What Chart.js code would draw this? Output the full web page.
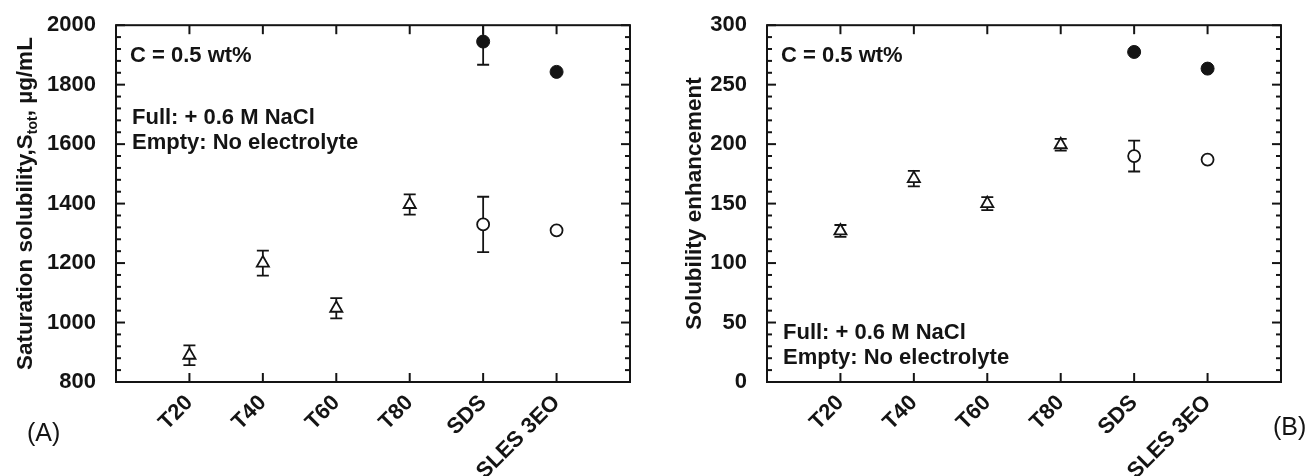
<!DOCTYPE html>
<html>
<head>
<meta charset="utf-8" />
<title>Saturation solubility and solubility enhancement</title>
<style>
  html, body { margin: 0; padding: 0; background: #fff; }
  #wrap { position: relative; width: 1307px; height: 476px; }
  .panel { position: absolute; top: 0; height: 476px; }
</style>
</head>
<body>
<div id="wrap">
  <div class="panel" style="left:0;width:650px"><canvas id="chartA"></canvas></div>
  <div class="panel" style="left:650px;width:657px"><canvas id="chartB"></canvas></div>
</div>
<script src="https://cdn.jsdelivr.net/npm/chart.js@4.4.1/dist/chart.umd.min.js"></script>
<script>
// categories on the x axis (positions 1..6)
const categories = ["T20", "T40", "T60", "T80", "SDS", "SLES 3EO"];

// (A) saturation solubility, ug/mL
const solTween = [890, 1200, 1048, 1397];
const solTweenErr = [33, 42, 34, 34];
const solEmpty = [1330, 1310];          // SDS, SLES 3EO, no electrolyte
const solEmptyErr = [93, 0];
const solFull = [1945, 1843];           // SDS, SLES 3EO, + 0.6 M NaCl
const solFullErr = [78, 0];
const solTicks = [800, 1000, 1200, 1400, 1600, 1800, 2000];

// (B) solubility enhancement
const enhTween = [127, 171, 150, 199.5];
const enhTweenErr = [5, 6.5, 5.5, 5];
const enhEmpty = [190, 187];
const enhEmptyErr = [13, 0];
const enhFull = [277.5, 263.5];
const enhFullErr = [0, 0];
const enhTicks = [0, 50, 100, 150, 200, 250, 300];

const FONT = '"Liberation Sans", Arial, Helvetica, sans-serif';
const INK = "#141414";

function pts(values, firstPos) {
  return values.map((v, i) => ({ x: firstPos + i, y: v }));
}

function line(ctx, x1, y1, x2, y2) {
  ctx.beginPath();
  ctx.moveTo(x1, y1);
  ctx.lineTo(x2, y2);
  ctx.stroke();
}

// frame, inward ticks, error bars, texts
const deco = {
  id: "deco",
  beforeDatasetsDraw(chart, args, opts) {
    const { ctx, chartArea: a, scales: { x, y } } = chart;
    ctx.save();
    ctx.strokeStyle = INK;
    ctx.lineWidth = 2;
    ctx.strokeRect(a.left, a.top, a.right - a.left, a.bottom - a.top);
    x.ticks.forEach(t => {
      const px = x.getPixelForValue(t.value);
      line(ctx, px, a.bottom, px, a.bottom - 9);
      line(ctx, px, a.top, px, a.top + 9);
    });
    const n = Math.round((y.max - y.min) / opts.minorStep);
    for (let i = 0; i <= n; i++) {
      const py = y.getPixelForValue(y.min + i * opts.minorStep);
      const len = i % opts.minorPerMajor === 0 ? 9 : 5;
      line(ctx, a.left, py, a.left + len, py);
      line(ctx, a.right, py, a.right - len, py);
    }
    // error bars, clipped to plot area
    ctx.beginPath();
    ctx.rect(a.left, a.top, a.right - a.left, a.bottom - a.top);
    ctx.clip();
    ctx.lineWidth = 1.8;
    chart.data.datasets.forEach(ds => {
      if (!ds.errors) return;
      ds.data.forEach((p, j) => {
        const e = ds.errors[j];
        if (!e) return;
        const px = x.getPixelForValue(p.x);
        const top = y.getPixelForValue(p.y + e);
        const bot = y.getPixelForValue(p.y - e);
        line(ctx, px, top, px, bot);
        line(ctx, px - 6, top, px + 6, top);
        line(ctx, px - 6, bot, px + 6, bot);
      });
    });
    ctx.restore();
  },
  afterDraw(chart, args, opts) {
    const { ctx, chartArea: a } = chart;
    ctx.save();
    ctx.fillStyle = INK;
    ctx.textBaseline = "alphabetic";
    ctx.textAlign = "left";
    ctx.font = "bold 22px " + FONT;
    opts.notes.forEach(n => ctx.fillText(n.text, n.x, n.y));

    // rotated y title, made of segments (for the subscript)
    const t = opts.yTitle;
    ctx.save();
    ctx.translate(t.x, (a.top + a.bottom) / 2);
    ctx.rotate(-Math.PI / 2);
    let total = 0;
    t.parts.forEach(p => { ctx.font = p.font; total += ctx.measureText(p.text).width; });
    let cx = -total / 2;
    t.parts.forEach(p => {
      ctx.font = p.font;
      ctx.fillText(p.text, cx, 8 + (p.dy || 0));
      cx += ctx.measureText(p.text).width;
    });
    ctx.restore();

    ctx.font = "25px " + FONT;
    ctx.fillText(opts.label.text, opts.label.x, opts.label.y);
    ctx.restore();
  }
};

function makeChart(id, cfg) {
  return new Chart(document.getElementById(id), {
    type: "scatter",
    data: {
      datasets: [
        { data: pts(cfg.tween, 1), errors: cfg.tweenErr, pointStyle: "triangle", pointRadius: 7,
          pointBorderWidth: 1.8, pointBorderColor: INK, pointBackgroundColor: "#fff" },
        { data: pts(cfg.empty, 5), errors: cfg.emptyErr, pointStyle: "circle", pointRadius: 6,
          pointBorderWidth: 1.8, pointBorderColor: INK, pointBackgroundColor: "#fff" },
        { data: pts(cfg.full, 5), errors: cfg.fullErr, pointStyle: "circle", pointRadius: 6.5,
          pointBorderWidth: 1, pointBorderColor: INK, pointBackgroundColor: INK }
      ]
    },
    options: {
      responsive: true,
      maintainAspectRatio: false,
      animation: false,
      layout: { padding: { left: 0, right: cfg.padRight, top: 23, bottom: 0 } },
      plugins: {
        legend: { display: false },
        tooltip: { enabled: false },
        deco: cfg.deco
      },
      scales: {
        x: {
          type: "linear", min: 0, max: 7,
          grid: { display: false }, border: { display: false },
          afterBuildTicks: s => { s.ticks = categories.map((c, i) => ({ value: i + 1 })); },
          afterFit: s => { s.height = 94; },
          ticks: {
            autoSkip: false, minRotation: 45, maxRotation: 45, padding: 0,
            color: INK, font: { family: FONT, size: 22, weight: "bold" },
            callback: v => categories[v - 1] || ""
          }
        },
        y: {
          min: cfg.ticks[0], max: cfg.ticks[cfg.ticks.length - 1],
          grid: { display: false }, border: { display: false },
          afterBuildTicks: s => { s.ticks = cfg.ticks.map(v => ({ value: v })); },
          afterFit: s => { s.width = cfg.yWidth; },
          ticks: {
            padding: 12, color: INK, font: { family: FONT, size: 22, weight: "bold" },
            callback: v => String(v)
          }
        }
      }
    },
    plugins: [deco]
  });
}

const bold = "bold 22.5px " + FONT;
const sub = "bold 14px " + FONT;

makeChart("chartA", {
  tween: solTween, tweenErr: solTweenErr,
  empty: solEmpty, emptyErr: solEmptyErr,
  full: solFull, fullErr: solFullErr,
  ticks: solTicks, yWidth: 116, padRight: 20,
  deco: {
    minorStep: 40, minorPerMajor: 5,
    notes: [
      { text: "C = 0.5 wt%", x: 130, y: 62 },
      { text: "Full: + 0.6 M NaCl", x: 132, y: 124 },
      { text: "Empty: No electrolyte", x: 132, y: 149 }
    ],
    yTitle: { x: 24, parts: [
      { text: "Saturation solubility,", font: bold },
      { text: "S", font: bold },
      { text: "tot", font: sub, dy: 5 },
      { text: ", \u00b5g/mL", font: bold }
    ] },
    label: { text: "(A)", x: 27, y: 441 }
  }
});

makeChart("chartB", {
  tween: enhTween, tweenErr: enhTweenErr,
  empty: enhEmpty, emptyErr: enhEmptyErr,
  full: enhFull, fullErr: enhFullErr,
  ticks: enhTicks, yWidth: 117, padRight: 26,
  deco: {
    minorStep: 10, minorPerMajor: 5,
    notes: [
      { text: "C = 0.5 wt%", x: 131, y: 62 },
      { text: "Full: + 0.6 M NaCl", x: 133, y: 339 },
      { text: "Empty: No electrolyte", x: 133, y: 364 }
    ],
    yTitle: { x: 43, parts: [
      { text: "Solubility enhancement", font: bold }
    ] },
    label: { text: "(B)", x: 623, y: 435 }
  }
});
</script>
</body>
</html>
